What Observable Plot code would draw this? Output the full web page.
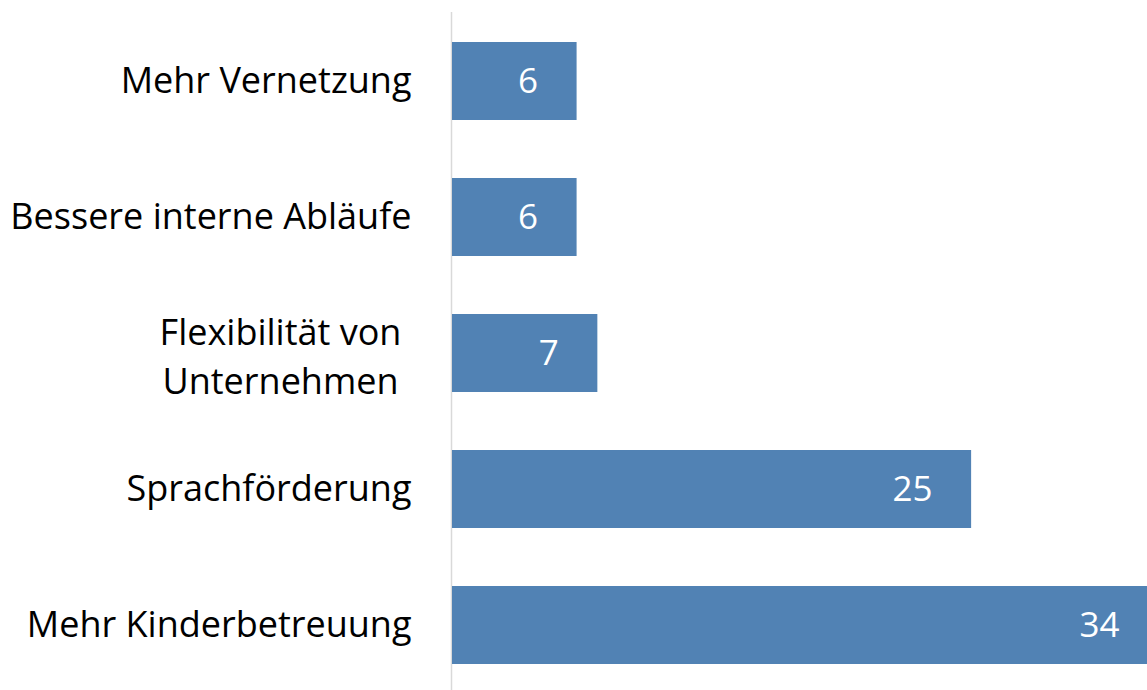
<!DOCTYPE html>
<html>
<head>
<meta charset="utf-8">
<script src="https://cdn.jsdelivr.net/npm/d3@7"></script>
<script src="https://cdn.jsdelivr.net/npm/@observablehq/plot@0.6"></script>
<style>
  html, body { margin: 0; padding: 0; background: #fff; overflow: hidden; }
  #chart svg { overflow: hidden; display: block; }
</style>
</head>
<body>
<div id="chart"></div>
<script>
const categories = [
  "Mehr Vernetzung",
  "Bessere interne Abläufe",
  "Flexibilität von\nUnternehmen",
  "Sprachförderung",
  "Mehr Kinderbetreuung"
];
const values = [6, 6, 7, 25, 34];

const data = categories.map((c, i) => ({category: c, value: values[i]}));
const single = data.filter(d => !d.category.includes("\n"));
const multi = data.filter(d => d.category.includes("\n"));

const font = "'Open Sans', Lato, sans-serif";

const chart = Plot.plot({
  width: 1147,
  height: 690,
  marginLeft: 0,
  marginRight: 0,
  marginTop: 0,
  marginBottom: 0,
  style: {fontFamily: font, background: "#fff"},
  x: {domain: [0, 34], range: [452, 1158], axis: null},
  y: {domain: categories, range: [11, 695.5], paddingInner: 0.43, paddingOuter: 0.215, axis: null},
  marks: [
    Plot.ruleX([0], {stroke: "#d9d9d9", strokeWidth: 1.5, dx: -1, insetTop: 12}),
    Plot.barX(data, {x: "value", y: "category", fill: "#5182B4"}),
    Plot.text(single, {
      x: 0, y: "category", text: "category",
      textAnchor: "end", dx: -41, fontSize: 36, fill: "#000"
    }),
    Plot.text(multi, {
      x: 0, y: "category", text: "category",
      textAnchor: "middle", dx: -172, fontSize: 36, lineHeight: 1.36, fill: "#000"
    }),
    Plot.text(data, {
      x: "value", y: "category", text: d => String(d.value),
      textAnchor: "end", dx: -39, fontSize: 35, fill: "#fff"
    })
  ]
});
document.getElementById("chart").appendChild(chart);
</script>
</body>
</html>
